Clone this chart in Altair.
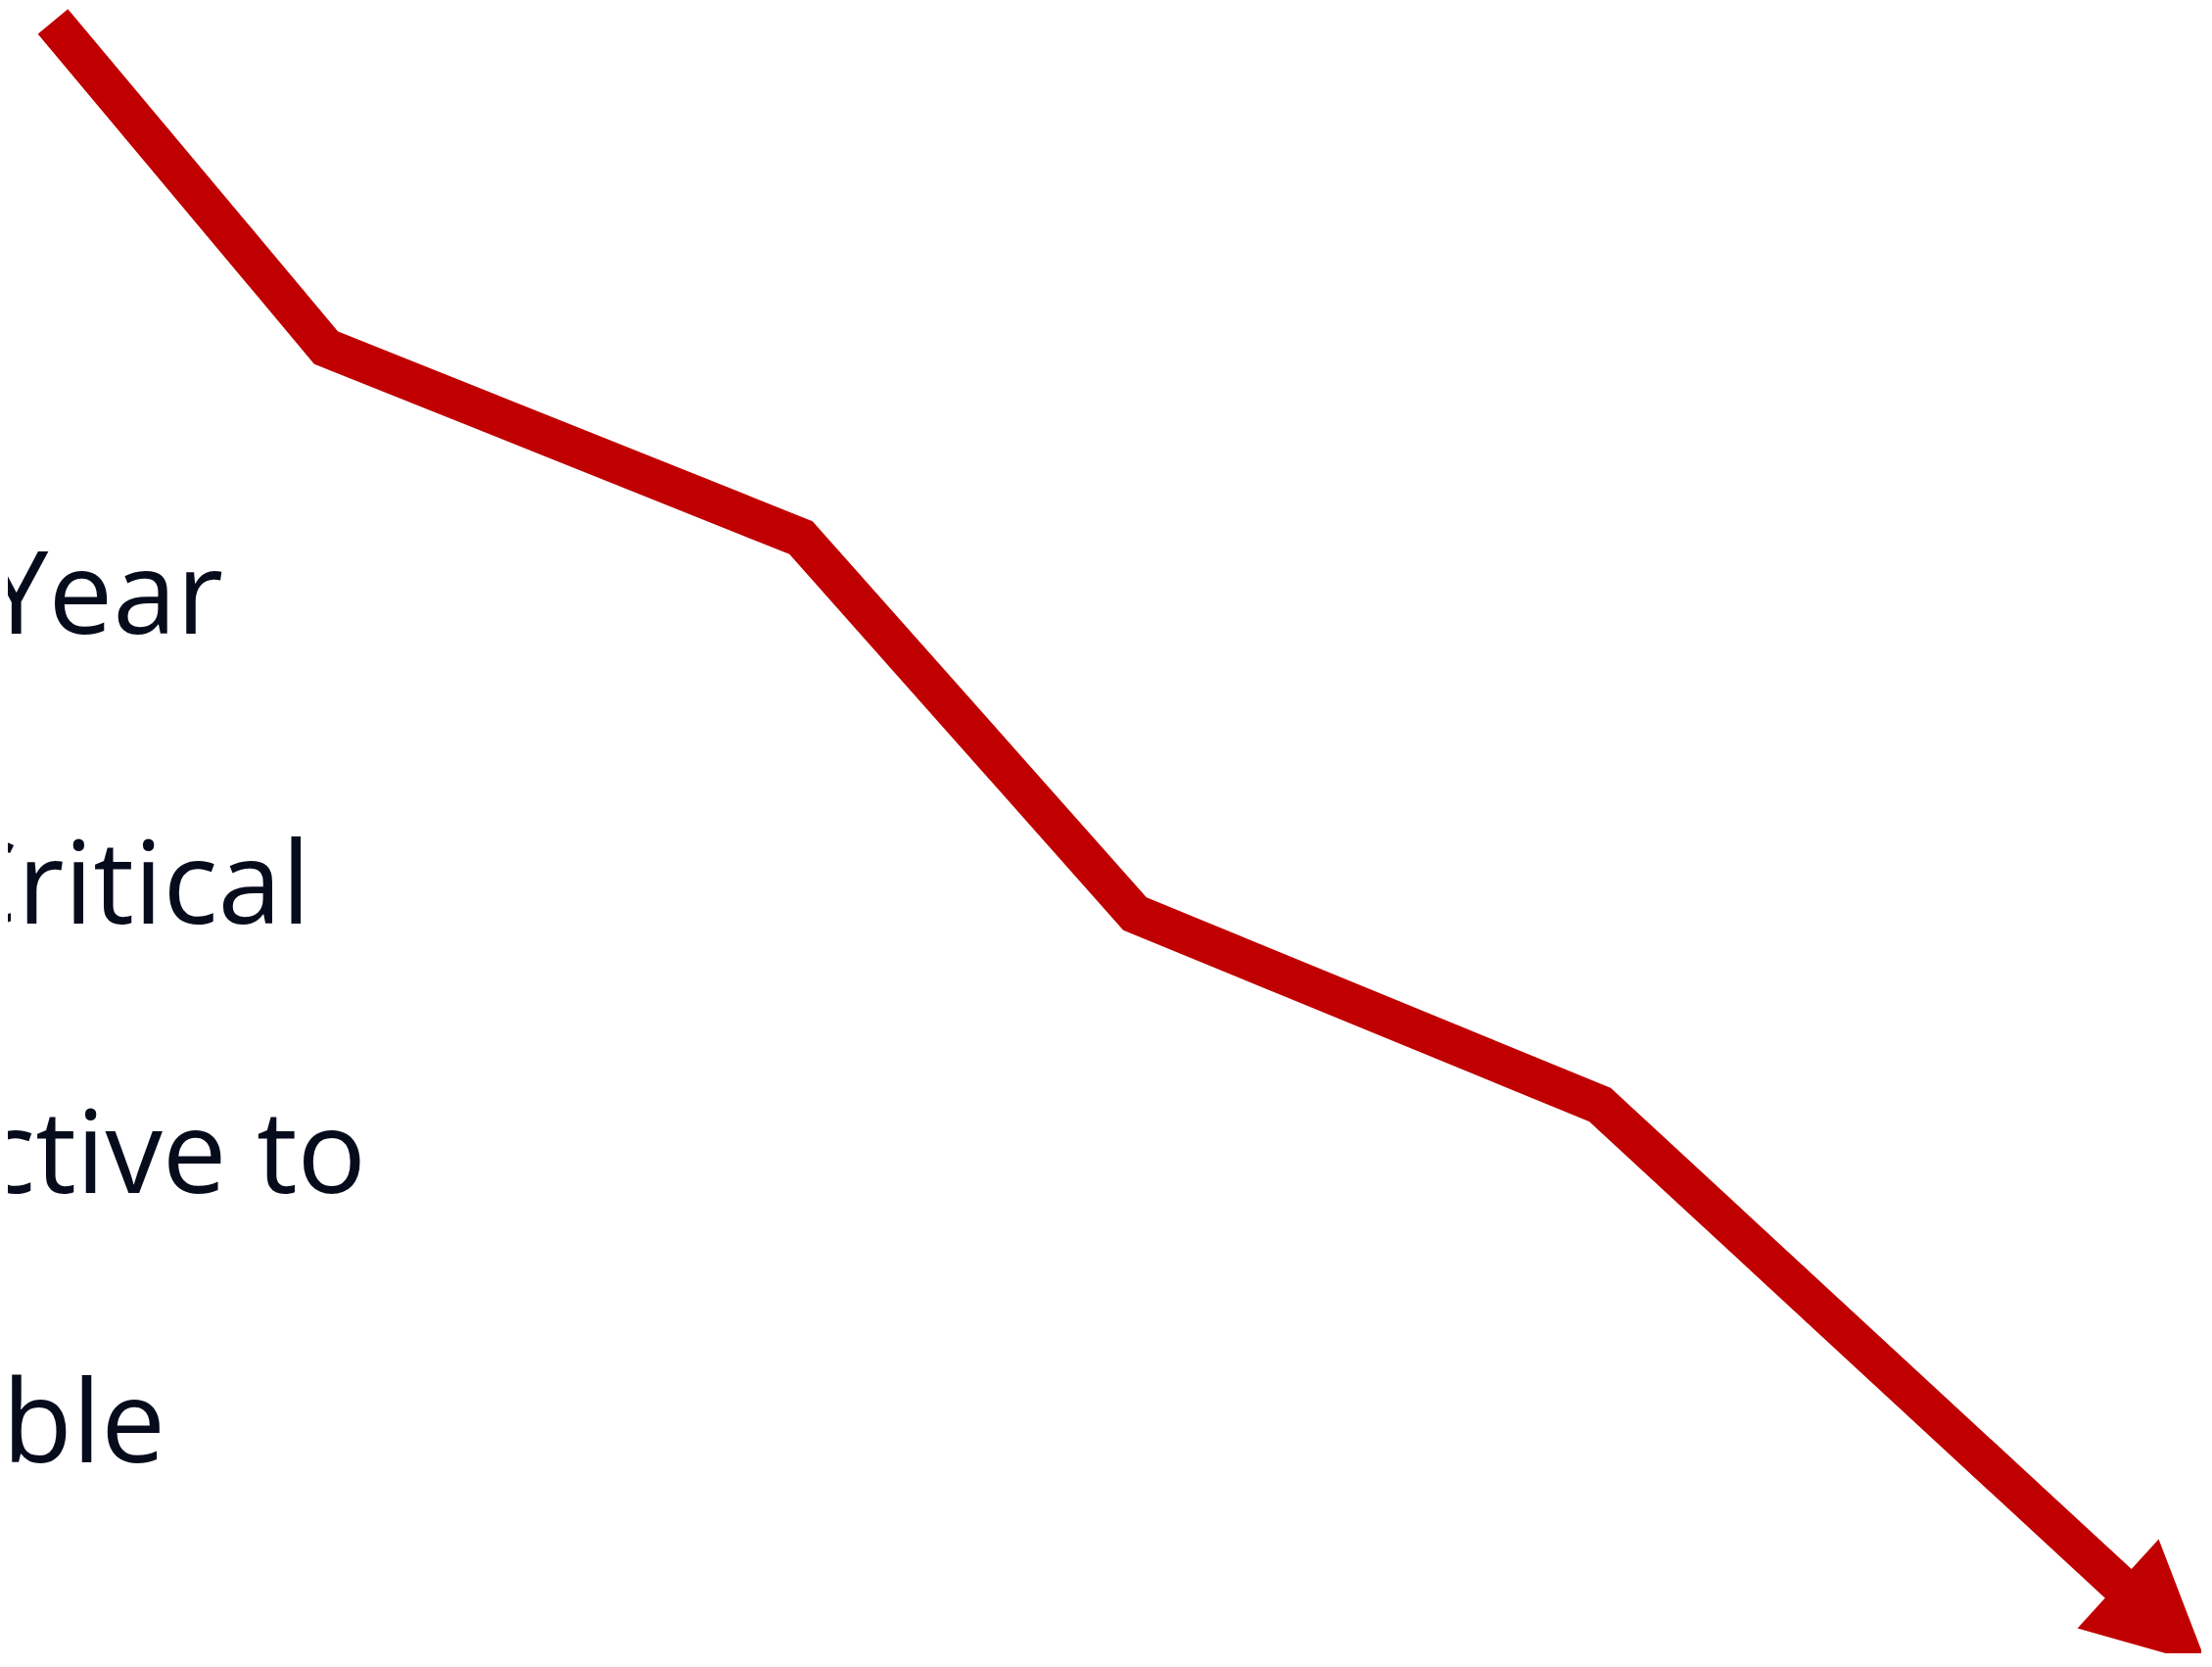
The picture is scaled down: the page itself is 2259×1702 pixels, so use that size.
import altair as alt
import pandas as pd

# Trend line vertices (x in horizontal units, y in vertical units, upward)
line_x = [54, 333, 818, 1159, 1634, 2170]
line_y = [1680, 1347, 1153, 769, 574, 79]

# Arrow head (centre of the head)
head_x = [2208.5]
head_y = [43.5]

# Text lines (visible parts, right ends and baselines)
labels = ["Year", "Critical", "ctive to", "ble"]
label_x = [228, 317, 374, 169]
label_y = [1055, 759, 484, 209]

W, H = 2240, 1680
xscale = alt.Scale(domain=[8, 8 + W], nice=False, zero=False)
yscale = alt.Scale(domain=[1694 - H, 1694], nice=False, zero=False)

RED = "#c00000"
INK = "#060c1c"

line_df = pd.DataFrame({"x": line_x, "y": line_y, "order": list(range(len(line_x)))})
head_df = pd.DataFrame({"x": head_x, "y": head_y})
text_df = pd.DataFrame({"label": labels, "x": label_x, "y": label_y})

line = alt.Chart(line_df).mark_line(
    color=RED, strokeWidth=40, strokeJoin="miter", strokeCap="butt", strokeMiterLimit=10
).encode(
    x=alt.X("x:Q", scale=xscale, axis=None),
    y=alt.Y("y:Q", scale=yscale, axis=None),
    order="order:O",
)

head = alt.Chart(head_df).mark_point(
    shape="M1,0L-1,-1L-1,1Z", filled=True, color=RED, opacity=1,
    size=123 * 123, angle=42.4, strokeWidth=0
).encode(
    x=alt.X("x:Q", scale=xscale, axis=None),
    y=alt.Y("y:Q", scale=yscale, axis=None),
)

text = alt.Chart(text_df).mark_text(
    align="right", baseline="alphabetic", font="Open Sans", fontSize=117,
    color=INK, clip=True
).encode(
    x=alt.X("x:Q", scale=xscale, axis=None),
    y=alt.Y("y:Q", scale=yscale, axis=None),
    text="label:N",
)

chart = alt.layer(text, line, head).properties(
    width=W, height=H, padding=0,
    autosize=alt.AutoSizeParams(type="none"),
    background="white",
).configure_view(strokeWidth=0)

chart.save("out.html", embed_options={"renderer": "svg", "actions": False})
